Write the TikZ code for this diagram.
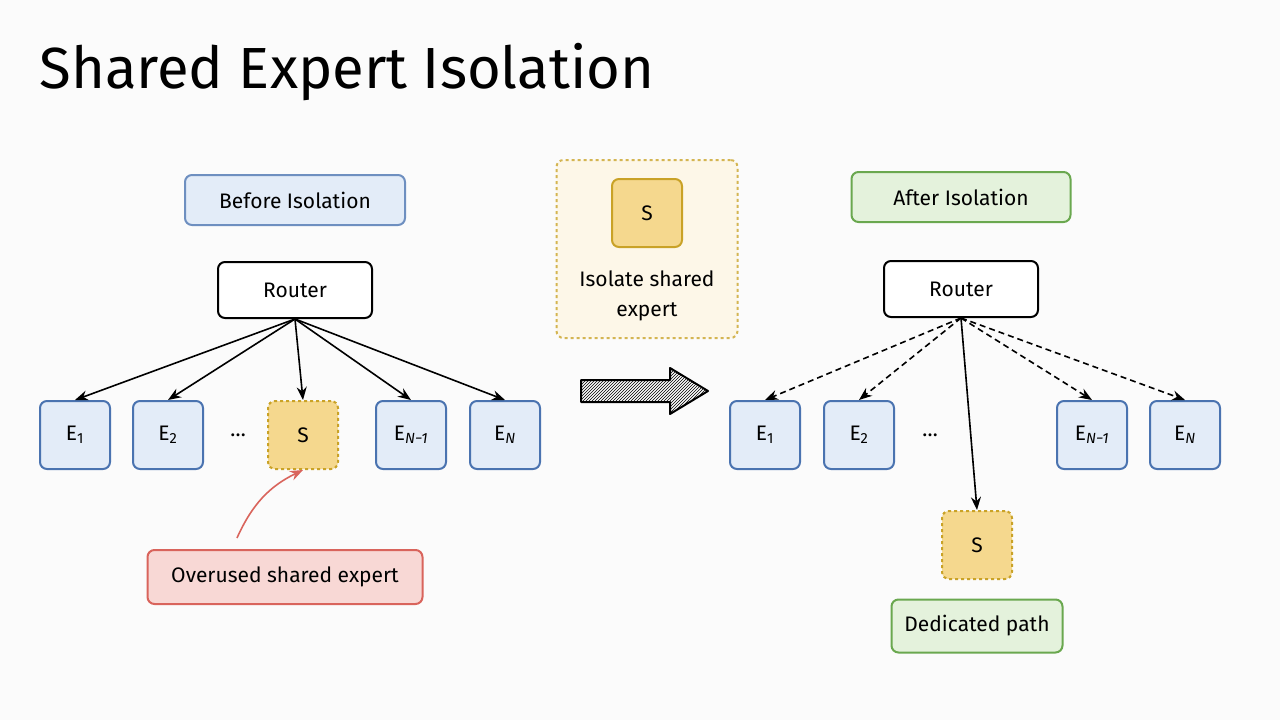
\documentclass[tikz,border=0pt]{standalone}
\usepackage{fontspec}
\setmainfont{Fira Sans}
\usetikzlibrary{patterns,arrows.meta}
\definecolor{bblue}{HTML}{4A73B0}\definecolor{fblue}{HTML}{E3ECF8}
\definecolor{byel}{HTML}{C9A227}\definecolor{fyel}{HTML}{F5D88E}
\definecolor{bgreen}{HTML}{6AA84F}\definecolor{fgreen}{HTML}{E4F2DC}
\definecolor{bred}{HTML}{D9645C}\definecolor{fred}{HTML}{F8D8D5}
\begin{document}
\begin{tikzpicture}[x=1pt,y=-1pt,
 box/.style={draw,rounded corners=7pt,line width=2pt,font=\fontsize{21}{25}\selectfont,inner sep=0pt},
 ex/.style={box,draw=bblue,fill=fblue,minimum width=70pt,minimum height=68pt},
 sx/.style={box,draw=byel,fill=fyel,dashed,minimum width=70pt,minimum height=68pt},
 rt/.style={box,fill=white,minimum width=154pt,minimum height=56pt},
 lbl/.style={box,minimum height=50pt},
 arr/.style={-{Stealth[length=13pt,width=10pt]},line width=1.6pt}]
\fill[white!97!gray] (0,0) rectangle (1280,720);
\useasboundingbox (0,0) rectangle (1280,720);
\node[anchor=west,font=\fontsize{58}{64}\selectfont] (title) at (36,72) {Shared Expert Isolation};
% left
\node[lbl,draw=bblue!80,fill=fblue,minimum width=220pt] (bi) at (295,200) {Before Isolation};
\node[rt] (r1) at (295,290) {Router};
\node[ex] (a1) at (75,435) {E\textsubscript{1}};
\node[ex] (a2) at (168,435) {E\textsubscript{2}};
\node[font=\fontsize{21}{25}\selectfont] (ad) at (238,435) {\dots};
\node[sx] (as) at (303,435) {S};
\node[ex] (a3) at (411,435) {E\textsubscript{\itshape N−1}};
\node[ex] (a4) at (505,435) {E\textsubscript{\itshape N}};
\foreach \t in {a1,a2,as,a3,a4} \draw[arr] (r1.south) -- (\t.north);
\node[lbl,draw=bred,fill=fred,minimum width=275pt,minimum height=54pt] (ov) at (285,577) {Overused shared expert};
\coordinate (ovs) at (237,538);
\draw[arr,draw=bred] (ovs) to[bend left=20] (as.south);
% middle
\draw[line width=2pt,pattern=north east lines,line join=round] (581,380) -- (670,380) -- (670,368) -- (708,391) -- (670,414) -- (670,402) -- (581,402) -- cycle;
\node[box,draw=byel!80,fill=fyel!20,dashed,minimum width=181pt,minimum height=178pt] (iso) at (647,249) {};
\node[sx,solid] (is) at (647,213) {S};
\node[align=center,font=\fontsize{21}{30}\selectfont] (it) at (647,296) {Isolate shared\\expert};
% right
\node[lbl,draw=bgreen,fill=fgreen,minimum width=219pt] (ai) at (961,197) {After Isolation};
\node[rt] (r2) at (961,289) {Router};
\node[ex] (b1) at (765,435) {E\textsubscript{1}};
\node[ex] (b2) at (859,435) {E\textsubscript{2}};
\node[font=\fontsize{21}{25}\selectfont] (bd) at (930,435) {\dots};
\node[ex] (b3) at (1092,435) {E\textsubscript{\itshape N−1}};
\node[ex] (b4) at (1185,435) {E\textsubscript{\itshape N}};
\foreach \t in {b1,b2,b3,b4} \draw[arr,dash pattern=on 6pt off 4pt] (r2.south) -- (\t.north);
\node[sx] (bs) at (977,545) {S};
\draw[arr] (r2.south) -- (bs.north);
\node[lbl,draw=bgreen,fill=fgreen,minimum width=171pt,minimum height=53pt] (dp) at (977,626) {Dedicated path};
\end{tikzpicture}
\end{document}
